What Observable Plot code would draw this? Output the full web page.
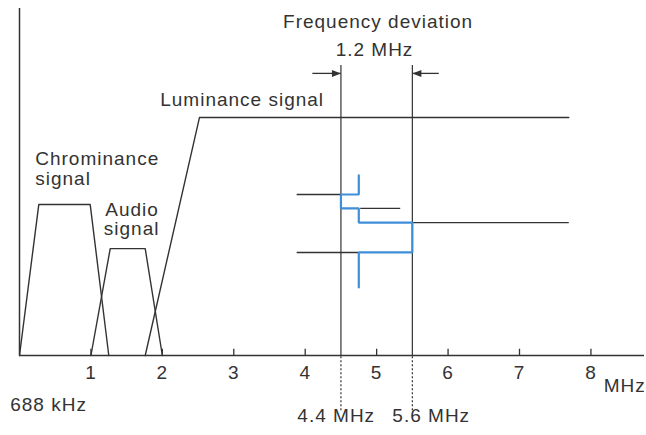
<!DOCTYPE html>
<html><head><meta charset="utf-8">
<script src="https://cdn.jsdelivr.net/npm/d3@7"></script>
<script src="https://cdn.jsdelivr.net/npm/@observablehq/plot@0.6"></script>
<style>
body{margin:0;background:#fff}
svg{display:block}
svg text{letter-spacing:1px}
</style>
</head><body><div id="chart"></div>
<script>
// Frequency axis (MHz)
const xTicks = [1, 2, 3, 4, 5, 6, 7, 8];

// Chrominance signal band
const chromaX = [0, 0.27, 0.99, 1.25];
const chromaY = [0, 43.5, 43.5, 0];

// Audio signal band
const audioX = [1.0, 1.27, 1.76, 2.0];
const audioY = [0, 30.8, 30.8, 0];

// Luminance signal band
const lumaX = [1.76, 2.52, 7.69];
const lumaY = [0, 68.6, 68.6];

// FM waveform (blue)
const fmX = [4.75, 4.75, 4.5, 4.5, 4.75, 4.75, 5.5, 5.5, 4.75, 4.75];
const fmY = [51.9, 46.4, 46.4, 42.4, 42.4, 38.3, 38.3, 29.7, 29.7, 19.6];

// Input levels (black)
const levelX1 = [3.88, 4.77, 5.5, 3.88];
const levelX2 = [4.5, 5.33, 7.69, 4.75];
const levelY = [46.4, 42.4, 38.3, 29.7];

// Deviation limits
const devX = [4.5, 5.5];
const devTop = 83.6;
const devBottom = -15.9;

// Arrows for deviation
const arrowX1 = [4.10, 5.87];
const arrowX2 = [4.5, 5.5];
const arrowY = 81.3;

// Annotations
const labelText = ["Frequency deviation", "1.2 MHz", "Luminance signal", "Chrominance", "signal", "Audio", "signal", "688 kHz", "4.4 MHz", "5.6 MHz", "MHz"];
const labelX = [5.02, 4.97, 1.97, 0.22, 0.22, 1.20, 1.18, -0.13, 3.89, 5.22, 8.18];
const labelY = [94.5, 86.2, 71.8, 54.8, 49.0, 40.3, 34.6, -16.1, -19.3, -19.3, -10.4];
const labelAnchor = ["middle", "middle", "start", "start", "start", "start", "start", "start", "start", "start", "start"];

const ink = "#333";
const blue = "#3f8fd8";
const pts = (xs, ys) => xs.map((x, i) => ({x, y: ys[i]}));
const labels = labelText.map((t, i) => ({t, x: labelX[i], y: labelY[i], a: labelAnchor[i]}));
const levels = levelX1.map((x1, i) => ({x1, x2: levelX2[i], y: levelY[i]}));
const arrows = arrowX1.map((x1, i) => ({x1, x2: arrowX2[i], y: arrowY}));

const filledArrow = (color, context) => {
  const m = d3.create("svg:marker")
    .attr("viewBox", "-10 -5 11 10")
    .attr("markerWidth", 11)
    .attr("markerHeight", 10)
    .attr("markerUnits", "userSpaceOnUse")
    .attr("refX", 0).attr("refY", 0)
    .attr("orient", "auto");
  m.append("path").attr("d", "M-9,-3.5L0,0L-9,3.5Z").attr("fill", color).attr("stroke", "none");
  return m.node();
};

const textOpts = (anchor) => ({
  x: "x", y: "y", text: "t", textAnchor: anchor, lineAnchor: "bottom",
  fontSize: 19, fill: ink
});

const chart = Plot.plot({
  width: 646,
  height: 435,
  marginLeft: 19,
  marginRight: 2,
  marginTop: 8,
  marginBottom: 80,
  style: {fontFamily: "'Liberation Sans', Arial, Helvetica, sans-serif", fontSize: "19px", color: ink, background: "#fff", overflow: "visible"},
  x: {domain: [0, 8.75]},
  y: {domain: [0, 100], axis: null},
  marks: [
    Plot.axisX({ticks: xTicks, tickSize: 0, tickPadding: 10, fontSize: 19, label: null, tickFormat: d => String(d)}),
    Plot.ruleX(xTicks, {x: d => d, y1: 0, y2: 1.8, stroke: ink, strokeWidth: 1.3}),
    Plot.ruleY([0], {x1: 0, x2: 8.75, stroke: ink, strokeWidth: 1.5}),
    Plot.ruleX([0], {y1: 0, y2: 100, stroke: ink, strokeWidth: 1.5}),
    Plot.ruleX(devX, {x: d => d, y1: 0, y2: devTop, stroke: ink, strokeWidth: 1.2}),
    Plot.ruleX(devX, {x: d => d, y1: devBottom, y2: 0, stroke: ink, strokeWidth: 1.2, strokeDasharray: "2,2"}),
    Plot.link(arrows, {x1: "x1", x2: "x2", y1: "y", y2: "y", stroke: ink, strokeWidth: 1.3, markerEnd: filledArrow}),
    Plot.line(pts(chromaX, chromaY), {x: "x", y: "y", stroke: ink, strokeWidth: 1.4}),
    Plot.line(pts(audioX, audioY), {x: "x", y: "y", stroke: ink, strokeWidth: 1.4}),
    Plot.line(pts(lumaX, lumaY), {x: "x", y: "y", stroke: ink, strokeWidth: 1.4}),
    Plot.link(levels, {x1: "x1", x2: "x2", y1: "y", y2: "y", stroke: ink, strokeWidth: 1.4}),
    Plot.line(pts(fmX, fmY), {x: "x", y: "y", stroke: blue, strokeWidth: 2.2, strokeLinejoin: "miter"}),
    Plot.text(labels.filter(d => d.a === "start"), textOpts("start")),
    Plot.text(labels.filter(d => d.a === "middle"), textOpts("middle"))
  ]
});
document.getElementById("chart").appendChild(chart);
</script>
</body></html>
